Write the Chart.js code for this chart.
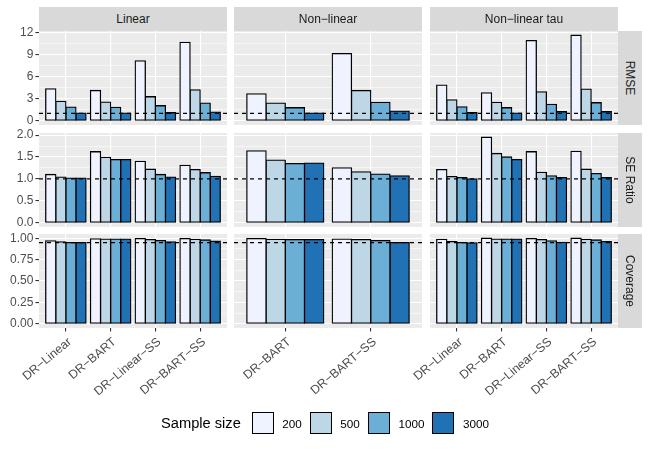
<!DOCTYPE html>
<html>
<head>
<meta charset="utf-8">
<script src="https://cdn.jsdelivr.net/npm/chart.js@4.4.1/dist/chart.umd.min.js"></script>
<style>
body { margin: 0; width: 650px; height: 450px; background: #fff; position: relative; overflow: hidden; font-family: "Liberation Sans", Arial, sans-serif; }
canvas { position: absolute; }
.strip { position: absolute; background: #d9d9d9; color: #1a1a1a; font-size: 12px; display: flex; align-items: center; justify-content: center; }
.vtxt { transform: rotate(90deg); white-space: nowrap; }
#legend { position: absolute; left: 161px; top: 412px; height: 22px; display: flex; align-items: center; }
#legend .title { font-size: 14.67px; color: #000; margin-right: 11px; }
#legend .key { width: 22px; height: 22px; box-sizing: border-box; border: 1.3px solid #000; margin-right: 8.5px; }
#legend .lab { font-size: 11.7px; color: #000; margin-right: 8px; }
</style>
</head>
<body>
<script>
const scenarios = ["Linear", "Non\u2212linear", "Non\u2212linear tau"];
const metrics = ["RMSE", "SE Ratio", "Coverage"];
const sampleSizes = ["200", "500", "1000", "3000"];
const colours = ["#EFF3FF", "#BDD7E7", "#6BAED6", "#2171B5"];

const methodsLinear = ["DR\u2212Linear", "DR\u2212BART", "DR\u2212Linear\u2212SS", "DR\u2212BART\u2212SS"];
const methodsNonlinear = ["DR\u2212BART", "DR\u2212BART\u2212SS"];
const methodsNonlinearTau = ["DR\u2212Linear", "DR\u2212BART", "DR\u2212Linear\u2212SS", "DR\u2212BART\u2212SS"];

// one row per method, values for sample size 200, 500, 1000, 3000
const rmseLinear = [[4.33, 2.62, 1.85, 1.04], [4.10, 2.53, 1.80, 1.04], [8.12, 3.25, 2.03, 1.08], [10.64, 4.19, 2.39, 1.17]];
const rmseNonlinear = [[3.65, 2.39, 1.76, 1.04], [9.11, 4.10, 2.48, 1.31]];
const rmseNonlinearTau = [[4.83, 2.84, 1.89, 1.08], [3.79, 2.48, 1.76, 1.04], [10.87, 3.92, 2.21, 1.22], [11.59, 4.29, 2.44, 1.22]];

const seLinear = [[1.10, 1.04, 1.02, 1.02], [1.62, 1.49, 1.44, 1.44], [1.40, 1.22, 1.10, 1.04], [1.31, 1.21, 1.14, 1.06]];
const seNonlinear = [[1.64, 1.43, 1.35, 1.36], [1.25, 1.16, 1.11, 1.07]];
const seNonlinearTau = [[1.21, 1.05, 1.03, 1.00], [1.95, 1.58, 1.50, 1.44], [1.62, 1.15, 1.07, 1.03], [1.63, 1.22, 1.12, 1.03]];

const covLinear = [[0.969, 0.957, 0.949, 0.949], [0.992, 0.990, 0.990, 0.990], [0.996, 0.984, 0.973, 0.957], [0.996, 0.988, 0.980, 0.965]];
const covNonlinear = [[0.996, 0.988, 0.984, 0.984], [0.990, 0.984, 0.973, 0.949]];
const covNonlinearTau = [[0.988, 0.960, 0.949, 0.945], [1.000, 0.990, 0.990, 0.990], [0.996, 0.984, 0.969, 0.953], [1.000, 0.988, 0.980, 0.960]];

const refLines = [1, 1, 0.95];

const rmseTicks = [0, 3, 6, 9, 12];
const rmseLabels = ["0", "3", "6", "9", "12"];
const rmseMinor = [1.5, 4.5, 7.5, 10.5];
const seTicks = [0, 0.5, 1, 1.5, 2];
const seLabels = ["0.0", "0.5", "1.0", "1.5", "2.0"];
const seMinor = [0.25, 0.75, 1.25, 1.75];
const covTicks = [0, 0.25, 0.5, 0.75, 1];
const covLabels = ["0.00", "0.25", "0.50", "0.75", "1.00"];
const covMinor = [0.125, 0.375, 0.625, 0.875];

// layout of the facet grid
const colLeft = [39, 234, 430];
const rowTop = [31, 133, 234];
const panelW = 188, panelH = 94;

Chart.defaults.font.family = "'Liberation Sans', Arial, sans-serif";

const methods = [methodsLinear, methodsNonlinear, methodsNonlinearTau];
const values = [
    [rmseLinear, rmseNonlinear, rmseNonlinearTau],
    [seLinear, seNonlinear, seNonlinearTau],
    [covLinear, covNonlinear, covNonlinearTau]
];
const yTicks = [rmseTicks, seTicks, covTicks];
const yLabels = [rmseLabels, seLabels, covLabels];
const yMinor = [rmseMinor, seMinor, covMinor];

const panelBg = {
    id: "panelBg",
    beforeDraw(chart) {
        const a = chart.chartArea;
        chart.ctx.save();
        chart.ctx.fillStyle = "#EBEBEB";
        chart.ctx.fillRect(a.left, a.top, a.right - a.left, a.bottom - a.top);
        chart.ctx.restore();
    }
};

function makePanel(c, r) {
    const isLeft = c === 0, isBottom = r === 2;
    const cats = methods[c];
    const vals = values[r][c];
    const yw = isLeft ? 39 : 0;
    const padL = isLeft ? 0 : 34, pad = 12;
    const xh = isBottom ? 88 : 0;

    // y range: ggplot-style 5% expansion over all panels of the row
    const rowMax = Math.max(...values[r].flat(2));
    const yMin = -0.05 * rowMax, yMax = rowMax * 1.05;

    const canvas = document.createElement("canvas");
    const w = yw + padL + panelW + pad;
    const h = pad + panelH + (isBottom ? xh : pad);
    canvas.width = w; canvas.height = h;
    canvas.style.left = (colLeft[c] - yw - padL) + "px";
    canvas.style.top = (rowTop[r] - pad) + "px";
    canvas.style.width = w + "px"; canvas.style.height = h + "px";
    document.body.appendChild(canvas);

    const majors = yTicks[r];
    const allY = majors.concat(yMinor[r]);
    const isMajor = v => majors.some(m => Math.abs(m - v) < 1e-9);

    const datasets = [{
        type: "line",
        data: [{ x: 0.4, y: refLines[r] }, { x: cats.length + 0.6, y: refLines[r] }],
        borderColor: "#000000",
        borderWidth: 1.3,
        borderDash: [4, 4],
        pointRadius: 0,
        order: 0
    }];
    sampleSizes.forEach((s, k) => {
        datasets.push({
            type: "bar",
            label: s,
            data: cats.map((m, i) => ({ x: i + 1, y: vals[i][k] })),
            backgroundColor: colours[k],
            borderColor: "#000000",
            borderWidth: 1.3,
            inflateAmount: 0.65,
            borderSkipped: false,
            categoryPercentage: 0.9,
            barPercentage: 1,
            order: 1
        });
    });

    new Chart(canvas, {
        type: "bar",
        data: { datasets: datasets },
        options: {
            responsive: false,
            animation: false,
            layout: { padding: { left: padL, top: pad, right: pad, bottom: isBottom ? 0 : pad } },
            plugins: { legend: { display: false }, tooltip: { enabled: false } },
            scales: {
                x: {
                    type: "linear",
                    min: 0.4,
                    max: cats.length + 0.6,
                    offset: false,
                    bounds: "data",
                    afterBuildTicks: s => { s.ticks = cats.map((m, i) => ({ value: i + 1 })); },
                    afterFit: s => { s.height = xh; },
                    border: { display: false },
                    grid: { offset: false, color: "#ffffff", lineWidth: 1.1, drawTicks: isBottom, tickLength: 3.6, tickColor: "#333333", tickWidth: 1.1 },
                    ticks: {
                        display: isBottom,
                        autoSkip: false,
                        minRotation: 40,
                        maxRotation: 40,
                        padding: 3,
                        labelOffset: 4,
                        color: "#4D4D4D",
                        font: { size: 12.3 },
                        callback: (v, i) => cats[i]
                    }
                },
                y: {
                    min: yMin,
                    max: yMax,
                    bounds: "data",
                    beginAtZero: false,
                    afterBuildTicks: s => { s.ticks = allY.map(v => ({ value: v })); },
                    afterFit: s => { s.width = yw; },
                    border: { display: false },
                    grid: {
                        color: "#ffffff",
                        lineWidth: ctx => isMajor(ctx.tick.value) ? 1.1 : 0.55,
                        drawTicks: isLeft,
                        tickLength: 3.6,
                        tickWidth: 1.1,
                        tickColor: ctx => isMajor(ctx.tick.value) ? "#333333" : "rgba(0,0,0,0)"
                    },
                    ticks: {
                        display: isLeft,
                        autoSkip: false,
                        padding: 2,
                        color: "#4D4D4D",
                        font: { size: 12 },
                        callback: v => {
                            const j = majors.findIndex(m => Math.abs(m - v) < 1e-9);
                            return j >= 0 ? yLabels[r][j] : "";
                        }
                    }
                }
            }
        },
        plugins: [panelBg]
    });
}

for (let r = 0; r < 3; r++) {
    for (let c = 0; c < 3; c++) makePanel(c, r);
}

// facet strips
scenarios.forEach((s, c) => {
    const d = document.createElement("div");
    d.className = "strip";
    d.style.left = colLeft[c] + "px"; d.style.top = "7px";
    d.style.width = panelW + "px"; d.style.height = (rowTop[0] - 7) + "px";
    d.textContent = s;
    document.body.appendChild(d);
});
metrics.forEach((m, r) => {
    const d = document.createElement("div");
    d.className = "strip";
    d.style.left = (colLeft[2] + panelW) + "px"; d.style.top = rowTop[r] + "px";
    d.style.width = "24px"; d.style.height = panelH + "px";
    const t = document.createElement("span");
    t.className = "vtxt";
    t.textContent = m;
    d.appendChild(t);
    document.body.appendChild(d);
});

// legend
const legend = document.createElement("div");
legend.id = "legend";
const title = document.createElement("span");
title.className = "title";
title.textContent = "Sample size";
legend.appendChild(title);
sampleSizes.forEach((s, k) => {
    const key = document.createElement("span");
    key.className = "key";
    key.style.background = colours[k];
    legend.appendChild(key);
    const lab = document.createElement("span");
    lab.className = "lab";
    lab.textContent = s;
    legend.appendChild(lab);
});
document.body.appendChild(legend);
</script>
</body>
</html>
